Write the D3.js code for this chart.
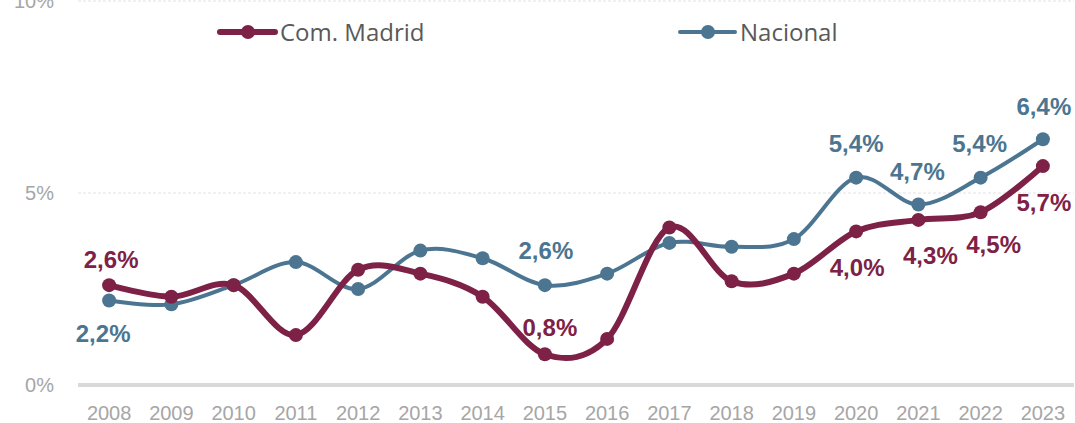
<!DOCTYPE html>
<html>
<head>
<meta charset="utf-8">
<script src="https://cdn.jsdelivr.net/npm/d3@7"></script>
<style>
  body { margin: 0; background: #fff; }
  svg { display: block; }
</style>
</head>
<body>
<script>
var width = 1075;
var height = 423;

// ------- data --------
var years = ['2008', '2009', '2010', '2011', '2012', '2013', '2014', '2015',
             '2016', '2017', '2018', '2019', '2020', '2021', '2022', '2023'];
var madrid = [2.6, 2.3, 2.6, 1.3, 3.0, 2.9, 2.3, 0.8, 1.2, 4.1, 2.7, 2.9, 4.0, 4.3, 4.5, 5.7];
var nacional = [2.2, 2.1, 2.6, 3.2, 2.5, 3.5, 3.3, 2.6, 2.9, 3.7, 3.6, 3.8, 5.4, 4.7, 5.4, 6.4];
var yTicks = [0, 5, 10];
var seriesNames = ['Com. Madrid', 'Nacional'];

// which points get a value label, and where it sits relative to the point
var madridLabels = [
    { year: '2008', dx: 2, dy: -26 },
    { year: '2015', dx: 5, dy: -27 },
    { year: '2020', dx: 1, dy: 36 },
    { year: '2021', dx: 12, dy: 35 },
    { year: '2022', dx: 13, dy: 32 },
    { year: '2023', dx: 1, dy: 36 }
];
var nacionalLabels = [
    { year: '2008', dx: -6, dy: 33 },
    { year: '2015', dx: 1, dy: -35 },
    { year: '2020', dx: 0, dy: -34 },
    { year: '2021', dx: -1, dy: -33 },
    { year: '2022', dx: -1, dy: -34 },
    { year: '2023', dx: 1, dy: -33 }
];

var colors = ['#7e2146', '#4b7590'];

// ------- svg --------
var svg = d3.select('body')
    .append('svg')
    .attr('width', width)
    .attr('height', height);

var x = d3.scaleBand()
    .domain(years)
    .range([78, 1074])
    .padding(0);

var y = d3.scaleLinear()
    .domain([0, 10])
    .range([385, 1]);

function cx(yr) { return x(yr) + x.bandwidth() / 2; }

// gridlines
svg.selectAll('line.grid')
    .data(yTicks.filter(function(t) { return t > 0; }))
    .enter()
    .append('line')
    .attr('class', 'grid')
    .attr('x1', 78)
    .attr('x2', 1074)
    .attr('y1', function(d) { return y(d); })
    .attr('y2', function(d) { return y(d); })
    .attr('stroke', '#e3e3e3')
    .attr('stroke-width', 1)
    .attr('stroke-dasharray', '3,2');

// base axis line
svg.append('line')
    .attr('x1', 78)
    .attr('x2', 1074)
    .attr('y1', y(0))
    .attr('y2', y(0))
    .attr('stroke', '#d9d9d9')
    .attr('stroke-width', 4);

// y tick labels
svg.selectAll('text.ytick')
    .data(yTicks)
    .enter()
    .append('text')
    .attr('class', 'ytick')
    .attr('x', 54)
    .attr('y', function(d) { return y(d); })
    .attr('dy', '0.36em')
    .attr('text-anchor', 'end')
    .attr('font-family', 'Liberation Sans, Arial, sans-serif')
    .attr('font-size', 20)
    .attr('fill', '#a6a6a6')
    .text(function(d) { return d + '%'; });

// x axis labels
var xAxis = d3.axisBottom(x).tickSize(0).tickPadding(0);
var gx = svg.append('g')
    .attr('transform', 'translate(0,' + 406 + ')')
    .call(xAxis);
gx.select('.domain').remove();
gx.selectAll('text')
    .attr('dy', '0.72em')
    .attr('font-family', 'Liberation Sans, Arial, sans-serif')
    .attr('font-size', 20)
    .attr('fill', '#a6a6a6');

// lines
var line = d3.line()
    .x(function(d, i) { return cx(years[i]); })
    .y(function(d) { return y(d); })
    .curve(d3.curveCardinal.tension(0));

var series = [
    { name: seriesNames[0], values: madrid, color: colors[0], sw: 6, labels: madridLabels },
    { name: seriesNames[1], values: nacional, color: colors[1], sw: 4, labels: nacionalLabels }
];

// draw Nacional first so Madrid's thicker line sits on top where they touch
[series[1], series[0]].forEach(function(s) {
    svg.append('path')
        .datum(s.values)
        .attr('fill', 'none')
        .attr('stroke', s.color)
        .attr('stroke-width', s.sw)
        .attr('stroke-linecap', 'round')
        .attr('stroke-linejoin', 'round')
        .attr('d', line);

    svg.selectAll(null)
        .data(s.values)
        .enter()
        .append('circle')
        .attr('cx', function(d, i) { return cx(years[i]); })
        .attr('cy', function(d) { return y(d); })
        .attr('r', 7)
        .attr('fill', s.color);
});

// value labels
series.forEach(function(s) {
    svg.selectAll(null)
        .data(s.labels)
        .enter()
        .append('text')
        .attr('x', function(d) { return cx(d.year) + d.dx; })
        .attr('y', function(d) { return y(s.values[years.indexOf(d.year)]) + d.dy; })
        .attr('dy', '0.36em')
        .attr('text-anchor', 'middle')
        .attr('font-family', 'Liberation Sans, Arial, sans-serif')
        .attr('font-weight', 'bold')
        .attr('font-size', 24)
        .attr('fill', s.color)
        .text(function(d) {
            return String(s.values[years.indexOf(d.year)].toFixed(1)).replace('.', ',') + '%';
        });
});

// legend
var legendX = [220, 680];
var legend = svg.selectAll('g.legend')
    .data(series)
    .enter()
    .append('g')
    .attr('class', 'legend')
    .attr('transform', function(d, i) { return 'translate(' + legendX[i] + ',32)'; });

legend.append('line')
    .attr('x1', 0)
    .attr('x2', 55)
    .attr('stroke', function(d) { return d.color; })
    .attr('stroke-width', function(d) { return d.sw; })
    .attr('stroke-linecap', 'round');

legend.append('circle')
    .attr('cx', 28)
    .attr('r', 7)
    .attr('fill', function(d) { return d.color; });

legend.append('text')
    .attr('x', 60)
    .attr('dy', '0.36em')
    .attr('font-family', 'Open Sans, sans-serif')
    .attr('font-size', 24)
    .attr('fill', '#595959')
    .text(function(d) { return d.name; });
</script>
</body>
</html>
